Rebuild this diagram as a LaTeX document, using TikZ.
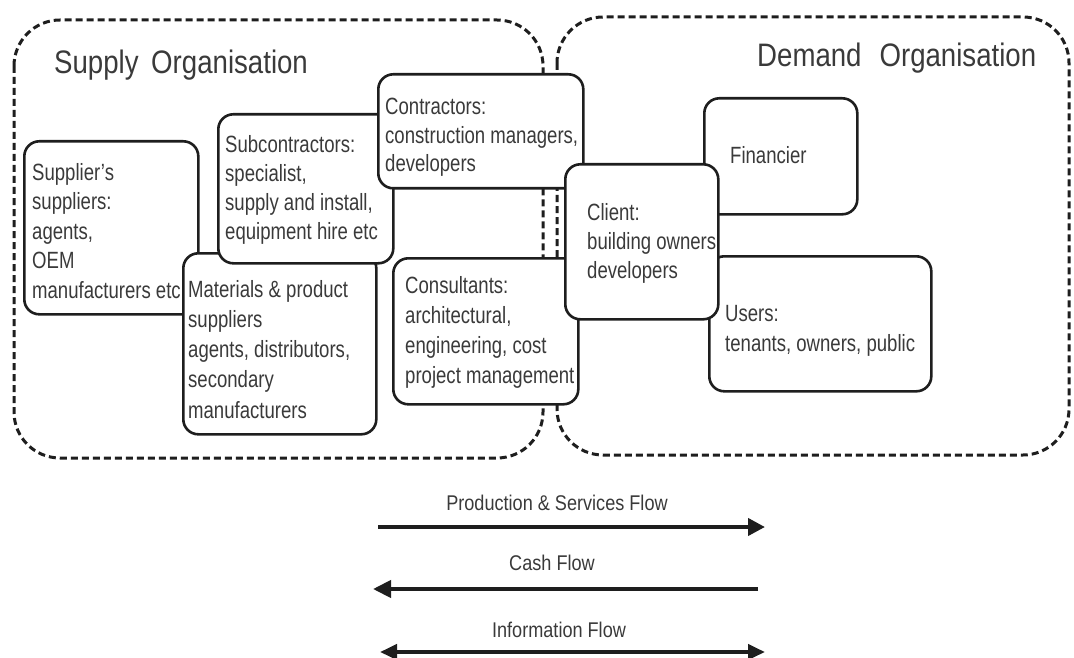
\documentclass[tikz,border=0pt]{standalone}
\usepackage{fontspec}
\setmainfont[FakeStretch=0.85]{Liberation Sans}
\newfontfamily\bodyfam[FakeStretch=0.79,Ligatures=TeX]{Liberation Sans}
\usetikzlibrary{arrows.meta}
\definecolor{inkline}{HTML}{1E1E1E}
\definecolor{inktext}{HTML}{3A3A3A}
\begin{document}
\begin{tikzpicture}[x=1pt,y=-1pt,
  orgbox/.style={draw=inkline, line width=3pt, dash pattern=on 7pt off 4pt, rounded corners=46pt},
  entbox/.style={draw=inkline, fill=white, line width=2.6pt, rounded corners=15pt, rectangle, inner sep=0pt, anchor=north west},
  enttext/.style={text=inktext, align=left, anchor=north west, inner sep=0pt},
  ttl/.style={text=inktext, anchor=base west, inner sep=0pt, font=\fontsize{32.5}{38}\selectfont},
  flowlbl/.style={text=inktext, anchor=base, inner sep=0pt, font=\fontsize{21.3}{25}\selectfont},
  flow/.style={draw=inkline, line width=4pt}
]
\useasboundingbox (0,0) rectangle (1074,658);

% organisation outlines
\draw[orgbox] (14,20) rectangle (543,458);
\draw[orgbox] (557,17) rectangle (1069,455);

\node[ttl] (supplyT) at (54,74) {Supply\hspace{12.6pt}Organisation};
\node[ttl] (demandT) at (757,67) {Demand\hspace{18pt}Organisation};

% supplier's suppliers
\node[entbox, minimum width=174pt, minimum height=173pt] (sup) at (23,140) {};
\node[enttext, font=\bodyfam\fontsize{23.5}{29.5}\selectfont] (supT) at (32,163) {Supplier’s\\suppliers:\\agents,\\OEM\\manufacturers etc};

% materials
\node[entbox, minimum width=193pt, minimum height=181pt] (mat) at (182,252) {};
\node[enttext, font=\bodyfam\fontsize{23.5}{30.2}\selectfont] (matT) at (188,280) {Materials \& product\\suppliers\\agents, distributors,\\secondary\\manufacturers};

% subcontractors
\node[entbox, minimum width=175pt, minimum height=149pt] (sub) at (217,113) {};
\node[enttext, font=\bodyfam\fontsize{23.5}{29}\selectfont] (subT) at (225,135) {Subcontractors:\\specialist,\\supply and install,\\equipment hire etc};

% contractors
\node[entbox, minimum width=205pt, minimum height=114pt] (con) at (377,73) {};
\node[enttext, font=\bodyfam\fontsize{23.5}{28.5}\selectfont] (conT) at (385,98) {Contractors:\\construction managers,\\developers};

% consultants
\node[entbox, minimum width=185pt, minimum height=146pt] (cons) at (392,257) {};
\node[enttext, font=\bodyfam\fontsize{23.5}{30}\selectfont] (consT) at (405,276) {Consultants:\\architectural,\\engineering, cost\\project management};

% financier
\node[entbox, minimum width=153pt, minimum height=116pt] (fin) at (703,97) {};
\node[enttext, font=\bodyfam\fontsize{23.5}{29.5}\selectfont] (finT) at (730,146) {Financier};

% users
\node[entbox, minimum width=222pt, minimum height=135pt] (usr) at (708,255) {};
\node[enttext, font=\bodyfam\fontsize{23.5}{30}\selectfont] (usrT) at (725,305) {Users:\\tenants, owners, public};

% client
\node[entbox, minimum width=153pt, minimum height=155pt] (cli) at (564,163) {};
\node[enttext, font=\bodyfam\fontsize{23.5}{29}\selectfont] (cliT) at (587,203) {Client:\\building owners\\developers};

% flows
\node[flowlbl] (prodL) at (557,510) {Production \& Services Flow};
\coordinate (prodA) at (378,527);
\coordinate (prodB) at (765,527);
\draw[flow, -{Triangle[length=17pt,width=17pt]}] (prodA) -- (prodB);

\node[flowlbl] (cashL) at (552,570) {Cash Flow};
\coordinate (cashA) at (758,589);
\coordinate (cashB) at (373,589);
\draw[flow, -{Triangle[length=18pt,width=17pt]}] (cashA) -- (cashB);

\node[flowlbl] (infoL) at (559,637) {Information Flow};
\coordinate (infoA) at (380,652);
\coordinate (infoB) at (765,652);
\draw[flow, {Triangle[length=17pt,width=15pt]}-{Triangle[length=17pt,width=15pt]}] (infoA) -- (infoB);
\end{tikzpicture}
\end{document}
